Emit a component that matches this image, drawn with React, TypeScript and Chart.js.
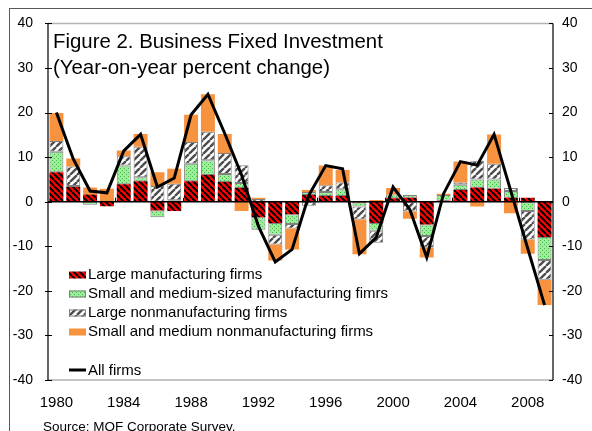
import React, { useEffect, useRef } from 'react';
import { Chart, registerables } from 'chart.js';

Chart.register(...registerables);

const years = [
  '1980', '1981', '1982', '1983', '1984', '1985', '1986', '1987', '1988', '1989',
  '1990', '1991', '1992', '1993', '1994', '1995', '1996', '1997', '1998', '1999',
  '2000', '2001', '2002', '2003', '2004', '2005', '2006', '2007', '2008', '2009',
];
const xLabelYears = ['1980', '1984', '1988', '1992', '1996', '2000', '2004', '2008'];

const largeManufacturing = [
  6.6, 3.3, 1.6, -1.0, 3.9, 4.6, -2.0, -2.1, 4.6, 6.0,
  4.4, 3.1, -3.5, -4.8, -2.8, 1.5, 1.3, 1.3, -0.2, -4.8,
  0.8, 0.9, -5.1, 0.2, 2.6, 3.2, 2.9, 0.9, 0.9, -7.9,
];
const smallMediumManufacturing = [
  4.6, 0.2, -0.7, 0.0, 4.2, 0.9, -1.5, 0.3, 3.9, 3.3,
  1.8, 1.1, -2.8, -2.6, -2.2, 0.7, 0.9, 1.5, -0.9, -1.7,
  0.8, 0.6, -2.6, 1.3, 1.2, 1.8, 2.1, 1.5, -2.1, -5.2,
];
const largeNonmanufacturing = [
  2.4, 4.4, 0.0, 0.0, 2.1, 6.8, 3.5, 3.7, 4.9, 6.4,
  4.7, 4.0, 0.6, -2.2, -1.0, -0.9, 1.5, 1.5, -2.9, -2.7,
  0.0, -2.2, -2.6, 0.0, 0.5, 4.2, 3.5, 0.7, -6.4, -4.4,
];
const smallMediumNonmanufacturing = [
  6.3, 1.8, 1.6, 2.9, 1.3, 2.9, 3.1, 3.4, 6.1, 8.4,
  4.3, -2.1, 0.3, -3.6, -4.7, 0.4, 4.4, 2.8, -7.8, 0.4,
  1.5, -1.6, -2.2, 0.3, 4.7, -1.1, 6.6, -2.6, -3.2, -5.7,
];
const allFirms = [
  20.0, 9.6, 2.4, 2.0, 11.4, 15.1, 3.3, 5.3, 19.5, 24.1,
  15.3, 6.0, -5.5, -13.5, -10.7, 1.5, 8.1, 7.4, -11.7, -8.0,
  3.3, -1.8, -12.5, 1.8, 9.0, 8.2, 15.1, 2.3, -10.5, -23.2,
];
const yTickValues = [40, 30, 20, 10, 0, -10, -20, -30, -40];

const seriesNames = [
  'Large manufacturing firms',
  'Small and medium-sized manufacturing fimrs',
  'Large nonmanufacturing firms',
  'Small and medium nonmanufacturing firms',
];
const lineName = 'All firms';
const titleLines = ['Figure 2. Business Fixed Investment', '(Year-on-year percent change)'];
const sourceText = 'Source: MOF Corporate Survey.';

const FONT = "'Liberation Sans', Arial, sans-serif";

function makePattern(size: number, draw: (g: CanvasRenderingContext2D, s: number) => void) {
  const c = document.createElement('canvas');
  c.width = size;
  c.height = size;
  const g = c.getContext('2d') as CanvasRenderingContext2D;
  draw(g, size);
  return g.createPattern(c, 'repeat') as CanvasPattern;
}

export default function App() {
  const ref = useRef<HTMLCanvasElement | null>(null);

  useEffect(() => {
    document.body.style.margin = '0';
    const canvas = ref.current;
    if (!canvas) return;

    const redPat = makePattern(6, (g, s) => {
      g.fillStyle = '#ff0000';
      g.fillRect(0, 0, s, s);
      g.strokeStyle = '#000000';
      g.lineWidth = 2;
      g.beginPath();
      for (const k of [-1, 0, 1]) {
        g.moveTo(k * s, 0);
        g.lineTo(k * s + s, s);
      }
      g.stroke();
    });
    const greenPat = makePattern(4, (g, s) => {
      g.fillStyle = '#9fec9f';
      g.fillRect(0, 0, s, s);
      g.fillStyle = '#3fbf3f';
      g.fillRect(0, 0, 1, 1);
      g.fillRect(2, 2, 1, 1);
    });
    const grayPat = makePattern(7, (g, s) => {
      g.fillStyle = '#ffffff';
      g.fillRect(0, 0, s, s);
      g.strokeStyle = '#4d4d4d';
      g.lineWidth = 2.4;
      g.beginPath();
      for (const k of [-1, 0, 1]) {
        g.moveTo(k * s, s);
        g.lineTo(k * s + s, 0);
      }
      g.stroke();
    });
    const orange = '#f7923f';
    const fills = [redPat, greenPat, grayPat, orange];
    const borders = ['rgba(0,0,0,0)', '#808080', '#808080', 'rgba(0,0,0,0)'];
    const seriesData = [largeManufacturing, smallMediumManufacturing, largeNonmanufacturing, smallMediumNonmanufacturing];

    const overlay = {
      id: 'overlay',
      afterDatasetDraw(chart: any, args: any) {
        if (args.index !== 0) return;
        const ctx = chart.ctx as CanvasRenderingContext2D;
        const a = chart.chartArea;
        const y0 = chart.scales.y.getPixelForValue(0);
        const step = (a.right - a.left) / years.length;
        ctx.save();
        ctx.strokeStyle = '#000';
        ctx.lineWidth = 1.5;
        ctx.beginPath();
        ctx.moveTo(a.left, y0);
        ctx.lineTo(a.right, y0);
        ctx.stroke();
        ctx.lineWidth = 1;
        ctx.beginPath();
        for (let i = 4; i < years.length; i += 4) {
          const x = Math.round(a.left + i * step) + 0.5;
          ctx.moveTo(x, y0 - 4);
          ctx.lineTo(x, y0);
        }
        ctx.stroke();
        ctx.restore();
      },
      afterDraw(chart: any) {
        const ctx = chart.ctx as CanvasRenderingContext2D;
        const a = chart.chartArea;
        const ys = chart.scales.y;
        ctx.save();
        ctx.strokeStyle = '#b3b3b3';
        ctx.lineWidth = 1.5;
        ctx.beginPath();
        ctx.moveTo(a.left, a.top);
        ctx.lineTo(a.right, a.top);
        ctx.moveTo(a.left, a.bottom);
        ctx.lineTo(a.right, a.bottom);
        ctx.stroke();
        ctx.strokeStyle = '#000';
        ctx.lineWidth = 1.2;
        ctx.beginPath();
        ctx.moveTo(a.left, a.top);
        ctx.lineTo(a.left, a.bottom);
        ctx.moveTo(a.right, a.top);
        ctx.lineTo(a.right, a.bottom);
        ctx.stroke();
        ctx.lineWidth = 1;
        ctx.beginPath();
        for (const v of yTickValues) {
          const y = Math.round(ys.getPixelForValue(v)) + 0.5;
          ctx.moveTo(a.left - 3, y);
          ctx.lineTo(a.left + 4, y);
          ctx.moveTo(a.right - 4, y);
          ctx.lineTo(a.right, y);
        }
        ctx.stroke();

        ctx.fillStyle = '#000';
        ctx.textBaseline = 'middle';
        ctx.textAlign = 'left';
        ctx.font = `20.4px ${FONT}`;
        ctx.fillText(titleLines[0], a.left + 5, 42);
        ctx.fillText(titleLines[1], a.left + 5, 68);

        const rows = [275, 294, 313, 332];
        ctx.font = `15px ${FONT}`;
        for (let i = 0; i < 4; i++) {
          const cy = rows[i];
          ctx.fillStyle = fills[i] as any;
          ctx.fillRect(69, cy - 3.5, 17, 7);
          if (i === 1 || i === 2) {
            ctx.strokeStyle = '#808080';
            ctx.lineWidth = 1;
            ctx.strokeRect(69.5, cy - 3, 16, 6);
          }
          ctx.fillStyle = '#000';
          ctx.fillText(seriesNames[i], 88, cy);
        }
        ctx.strokeStyle = '#000';
        ctx.lineWidth = 3;
        ctx.beginPath();
        ctx.moveTo(69, 370);
        ctx.lineTo(86, 370);
        ctx.stroke();
        ctx.fillText(lineName, 88, 371);

        ctx.font = `13.5px ${FONT}`;
        ctx.fillText(sourceText, 43, 427);

        ctx.strokeStyle = '#595959';
        ctx.lineWidth = 1;
        ctx.strokeRect(9.5, 8.5, 800, 800);
        ctx.restore();
      },
    };

    const datasets: any[] = seriesData.map((d, i) => ({
      type: 'bar',
      label: seriesNames[i],
      data: d,
      backgroundColor: fills[i],
      borderColor: borders[i],
      borderWidth: i === 1 || i === 2 ? 1 : 0,
      borderSkipped: false,
      categoryPercentage: 1,
      barPercentage: 0.83,
      yAxisID: 'y',
      stack: 'firms',
      order: 1,
    }));
    datasets.push({
      type: 'line',
      label: lineName,
      data: allFirms,
      borderColor: '#000',
      borderWidth: 3,
      pointRadius: 0,
      tension: 0,
      fill: false,
      yAxisID: 'y',
      stack: 'line',
      order: 0,
    });

    const chart = new Chart(canvas, {
      type: 'bar',
      data: { labels: years, datasets },
      plugins: [overlay],
      options: {
        responsive: false,
        devicePixelRatio: 1,
        animation: false,
        layout: { padding: { top: 20, left: 0, right: 0, bottom: 0 } },
        plugins: { legend: { display: false }, tooltip: { enabled: false } },
        scales: {
          x: {
            type: 'category',
            stacked: true,
            grid: { display: false, drawTicks: false },
            border: { display: false },
            ticks: {
              autoSkip: false,
              maxRotation: 0,
              minRotation: 0,
              padding: 14,
              color: '#000',
              font: { family: FONT, size: 15 },
              callback: (_v: any, i: number) => (xLabelYears.includes(years[i]) ? years[i] : ''),
            },
            afterFit: (s: any) => { s.height = 51; },
          },
          y: {
            position: 'left',
            stacked: true,
            min: -40,
            max: 40,
            grid: { display: false, drawTicks: false },
            border: { display: false },
            ticks: { stepSize: 10, padding: 15, color: '#000', font: { family: FONT, size: 14 } },
            afterFit: (s: any) => { s.width = 48; },
          },
          y2: {
            position: 'right',
            min: -40,
            max: 40,
            grid: { display: false, drawTicks: false },
            border: { display: false },
            ticks: { stepSize: 10, padding: 9, color: '#000', font: { family: FONT, size: 14 } },
            afterFit: (s: any) => { s.width = 39; },
          },
        },
      },
    });
    return () => chart.destroy();
  }, []);

  return <canvas ref={ref} width={592} height={431} style={{ display: 'block', width: 592, height: 431 }} />;
}
